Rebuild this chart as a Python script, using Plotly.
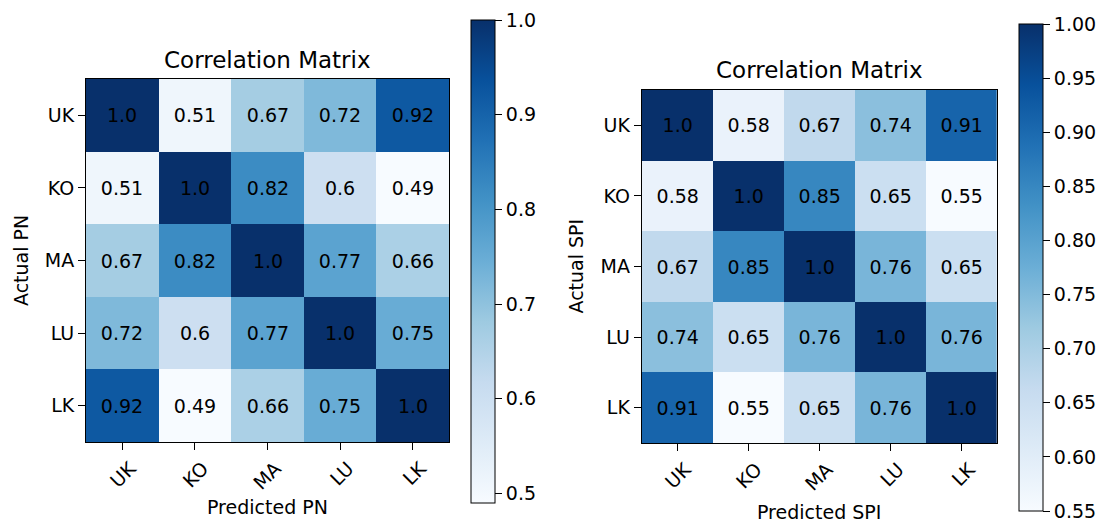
import plotly.graph_objects as go

labels = ["UK", "KO", "MA", "LU", "LK"]

pn_values = [
    [1.0, 0.51, 0.67, 0.72, 0.92],
    [0.51, 1.0, 0.82, 0.6, 0.49],
    [0.67, 0.82, 1.0, 0.77, 0.66],
    [0.72, 0.6, 0.77, 1.0, 0.75],
    [0.92, 0.49, 0.66, 0.75, 1.0],
]
spi_values = [
    [1.0, 0.58, 0.67, 0.74, 0.91],
    [0.58, 1.0, 0.85, 0.65, 0.55],
    [0.67, 0.85, 1.0, 0.76, 0.65],
    [0.74, 0.65, 0.76, 1.0, 0.76],
    [0.91, 0.55, 0.65, 0.76, 1.0],
]
pn_cbar_ticks = [0.5, 0.6, 0.7, 0.8, 0.9, 1.0]
spi_cbar_ticks = [0.55, 0.60, 0.65, 0.70, 0.75, 0.80, 0.85, 0.90, 0.95, 1.00]

# page body has an 8px default margin; figure is sized to fit the window
OFF = 8
W, H = 1111 - OFF, 525 - OFF
FONT = "DejaVu Sans"
FS = 19

blues = ["#f7fbff", "#deebf7", "#c6dbef", "#9ecae1", "#6baed6",
         "#4292c6", "#2171b5", "#08519c", "#08306b"]
colorscale = [[i / (len(blues) - 1), c] for i, c in enumerate(blues)]


def px_x(x):
    return (x - OFF) / W


def px_y(y):
    return 1 - (y - OFF) / H


def cbar(x_left, y_top, y_bot, ticks, fmt):
    return dict(
        x=px_x(x_left), xanchor="left", xpad=0,
        y=px_y((y_top + y_bot) / 2), yanchor="middle", ypad=0,
        len=y_bot - y_top, lenmode="pixels",
        thickness=24, thicknessmode="pixels",
        outlinewidth=1, outlinecolor="black",
        ticks="outside", ticklen=7, tickwidth=1, tickcolor="black",
        tickvals=ticks, tickformat=fmt,
        tickfont=dict(family=FONT, size=FS, color="black"),
    )


fig = go.Figure()
fig.add_trace(go.Heatmap(
    z=pn_values, x=labels, y=labels,
    text=[[str(v) for v in row] for row in pn_values],
    texttemplate="%{text}",
    textfont=dict(family=FONT, size=FS, color="black"),
    colorscale=colorscale, zmin=min(min(r) for r in pn_values), zmax=1.0,
    colorbar=cbar(471, 20, 503, pn_cbar_ticks, ".1f"),
    xaxis="x", yaxis="y", hoverinfo="skip",
))
fig.add_trace(go.Heatmap(
    z=spi_values, x=labels, y=labels,
    text=[[str(v) for v in row] for row in spi_values],
    texttemplate="%{text}",
    textfont=dict(family=FONT, size=FS, color="black"),
    colorscale=colorscale, zmin=min(min(r) for r in spi_values), zmax=1.0,
    colorbar=cbar(1019, 24, 511, spi_cbar_ticks, ".2f"),
    xaxis="x2", yaxis="y2", hoverinfo="skip",
))

axis_common = dict(
    showline=True, mirror=True, linecolor="black", linewidth=1,
    ticks="outside", ticklen=7, tickwidth=1, tickcolor="black",
    tickfont=dict(family=FONT, size=FS, color="black"),
    showgrid=False, zeroline=False,
)
xaxis_extra = dict(tickangle=-45, ticklabelshift=8)

L = dict(x0=86, x1=449, y0=79, y1=442)
R = dict(x0=641.7, x1=997, y0=90, y1=443)

fig.update_layout(
    width=W, height=H, autosize=False,
    margin=dict(l=0, r=0, t=0, b=0),
    paper_bgcolor="white", plot_bgcolor="white",
    font=dict(family=FONT, size=FS, color="black"),
    xaxis=dict(domain=[px_x(L["x0"]), px_x(L["x1"])], anchor="y", **xaxis_extra, **axis_common),
    yaxis=dict(domain=[px_y(L["y1"]), px_y(L["y0"])], anchor="x", autorange="reversed", **axis_common),
    xaxis2=dict(domain=[px_x(R["x0"]), px_x(R["x1"])], anchor="y2", **xaxis_extra, **axis_common),
    yaxis2=dict(domain=[px_y(R["y1"]), px_y(R["y0"])], anchor="x2", autorange="reversed", **axis_common),
)


def ann(text, x, y, size=FS, angle=0):
    fig.add_annotation(
        text=text, x=px_x(x), y=px_y(y), xref="paper", yref="paper",
        xanchor="center", yanchor="middle", showarrow=False, textangle=angle,
        font=dict(family=FONT, size=size, color="black"),
    )


lc = (L["x0"] + L["x1"]) / 2
rc = (R["x0"] + R["x1"]) / 2
ann("Correlation Matrix", lc, 60, size=23)
ann("Correlation Matrix", rc, 70, size=23)
ann("Predicted PN", lc, 507)
ann("Actual PN", 21.5, (L["y0"] + L["y1"]) / 2, angle=-90)
ann("Predicted SPI", rc, 512)
ann("Actual SPI", 575, (R["y0"] + R["y1"]) / 2, angle=-90)

fig.write_html("out.html")
